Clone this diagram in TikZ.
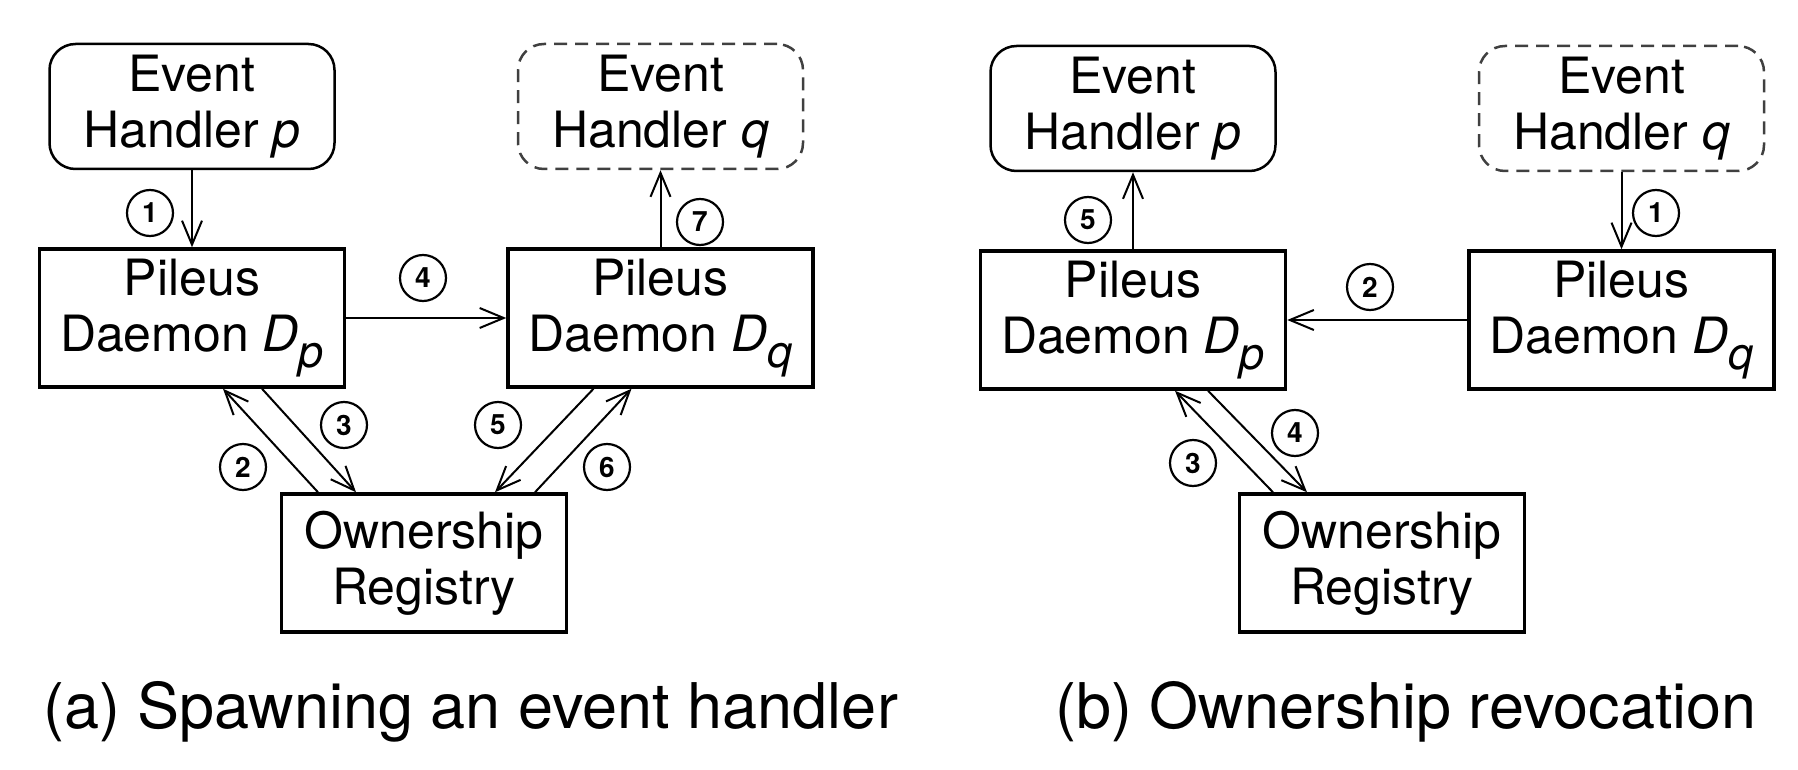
\documentclass[tikz,border=0pt]{standalone}
\usepackage{fontspec}
\setmainfont{TeX Gyre Heros}
\usetikzlibrary{arrows.meta,positioning,calc}
\newcommand{\lowsub}[1]{\raisebox{-0.32em}{\fontsize{45pt}{45pt}\selectfont\textit{#1}}}

\begin{document}
\begin{tikzpicture}[
  x=1pt,y=-1pt,
  font=\fontsize{50pt}{56pt}\selectfont,
  every node/.style={align=center},
  hndbox/.style ={rectangle,rounded corners=26pt,draw,line width=2.5pt,minimum width=285pt,minimum height=125pt,inner sep=0pt},
  ghostbox/.style={hndbox,draw=black!75,dash pattern=on 13pt off 8pt},
  dmnbox/.style ={rectangle,draw,line width=3.5pt,minimum width=305pt,minimum height=138pt,inner sep=0pt},
  regbox/.style ={dmnbox,minimum width=285pt},
  numc/.style   ={circle,draw,line width=2.2pt,minimum size=46pt,inner sep=0pt,font=\fontsize{28pt}{28pt}\selectfont\bfseries},
  arrx/.style   ={-{Straight Barb[length=24pt,width=20pt]},line width=2pt},
  capt/.style   ={anchor=base west,inner sep=0pt,font=\fontsize{63pt}{70pt}\selectfont}
]
\useasboundingbox (0,0) rectangle (1798,770);

% (a) spawning
\node[dmnbox] (dpa) at (192,318) {Pileus\\Daemon \textit{D}\lowsub{p}};
\node[dmnbox,right=160pt of dpa] (dqa) {Pileus\\Daemon \textit{D}\lowsub{q}};
\node[hndbox,above=77pt of dpa] (hpa) {Event\\Handler \textit{p}};
\node[ghostbox,above=77pt of dqa] (hqa) {Event\\Handler \textit{q}};
\node[regbox] (ora) at (424,563) {Ownership\\Registry};

\draw[arrx] (hpa) -- (dpa);
\draw[arrx] (dpa) -- (dqa);
\draw[arrx] (dqa) -- (hqa);
\draw[arrx] ([xshift=-106pt]ora.north) -- ([xshift=31pt]dpa.south);
\draw[arrx] ([xshift=70pt]dpa.south) -- ([xshift=-68pt]ora.north);
\draw[arrx] ([xshift=-67pt]dqa.south) -- ([xshift=71pt]ora.north);
\draw[arrx] ([xshift=111pt]ora.north) -- ([xshift=-29pt]dqa.south);

\node[numc] (a1) at (150,213) {1};
\node[numc] (a2) at (243,467) {2};
\node[numc] (a3) at (344,425) {3};
\node[numc] (a4) at (423,278) {4};
\node[numc] (a5) at (498,425) {5};
\node[numc] (a6) at (607,467) {6};
\node[numc] (a7) at (700,222) {7};

% (b) revocation
\node[dmnbox] (dpb) at (1133,320) {Pileus\\Daemon \textit{D}\lowsub{p}};
\node[dmnbox,right=180pt of dpb] (dqb) {Pileus\\Daemon \textit{D}\lowsub{q}};
\node[hndbox,above=77pt of dpb] (hpb) {Event\\Handler \textit{p}};
\node[ghostbox,above=77pt of dqb] (hqb) {Event\\Handler \textit{q}};
\node[regbox] (orb) at (1382,563) {Ownership\\Registry};

\draw[arrx] (hqb) -- (dqb);
\draw[arrx] (dqb.west) -- (dqb.west -| dpb.east);
\draw[arrx] ([xshift=-109pt]orb.north) -- ([xshift=42pt]dpb.south);
\draw[arrx] ([xshift=75pt]dpb.south) -- ([xshift=-75pt]orb.north);
\draw[arrx] (dpb) -- (hpb);

\node[numc] (b1) at (1656,213) {1};
\node[numc] (b2) at (1370,287) {2};
\node[numc] (b3) at (1193,463) {3};
\node[numc] (b4) at (1295,433) {4};
\node[numc] (b5) at (1088,220) {5};

% captions
\node[capt] (capa) at (43,728) {(a) Spawning an event handler};
\node[capt] (capb) at (1055,728) {(b) Ownership revocation};
\end{tikzpicture}
\end{document}
